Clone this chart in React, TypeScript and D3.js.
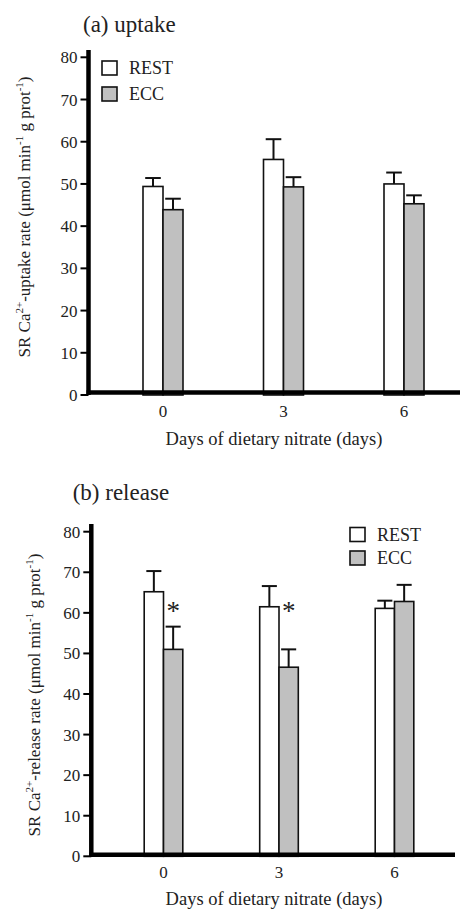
import React from "react";
import * as d3 from "d3";

// values (mean, upward SE)
const days = ["0", "3", "6"];
const groups = ["REST", "ECC"];
const yTicks = [0, 10, 20, 30, 40, 50, 60, 70, 80];

const uptakeRest = [49.4, 55.8, 50.0];
const uptakeRestErr = [2.0, 4.8, 2.7];
const uptakeEcc = [43.9, 49.3, 45.3];
const uptakeEccErr = [2.6, 2.3, 2.0];

const releaseRest = [65.2, 61.5, 61.1];
const releaseRestErr = [5.1, 5.1, 1.9];
const releaseEcc = [51.0, 46.6, 62.8];
const releaseEccErr = [5.6, 4.4, 4.1];
const releaseSig = ["*", "*", ""];

const FONT = "Liberation Serif, Times New Roman, DejaVu Serif, serif";
const fills = ["#ffffff", "#c0c0c0"];

const Panel = ({ title, label, rest, restErr, ecc, eccErr, sig, L }) => {
  const y = d3.scaleLinear().domain([0, 80]).range([L.y0, L.y80]);
  const x = d3.scalePoint().domain(days).range([L.c0, L.c2]);
  const sub = d3.scaleBand().domain(groups).range([-L.bw, L.bw]);
  const series = [
    { key: "REST", vals: rest, errs: restErr },
    { key: "ECC", vals: ecc, errs: eccErr },
  ];
  const cap = L.bw * 0.78;

  return (
    <g style={{ fontFamily: FONT }}>
      <text x={L.titleX} y={L.titleY} fontSize={23} fill="#222">{title}</text>

      {/* bars + error bars */}
      {series.map((s, si) => (
        <g key={s.key}>
          {days.map((d, i) => {
            const bx = x(d) + sub(s.key);
            const cx = bx + sub.bandwidth() / 2;
            const top = y(s.vals[i]);
            const et = y(s.vals[i] + s.errs[i]);
            return (
              <g key={d}>
                <line x1={cx} x2={cx} y1={top} y2={et} stroke="#111" strokeWidth={2} />
                <line x1={cx - cap / 2} x2={cx + cap / 2} y1={et} y2={et} stroke="#111" strokeWidth={2} />
                <rect x={bx} y={top} width={sub.bandwidth()} height={y(0) - top}
                  fill={fills[si]} stroke="#111" strokeWidth={1.6} />
              </g>
            );
          })}
        </g>
      ))}

      {sig && days.map((d, i) => sig[i] ? (
        <text key={d} x={x(d) + sub("ECC") + sub.bandwidth() / 2} y={y(L.sigAt)} textAnchor="middle"
          fontSize={27} fill="#222">{sig[i]}</text>
      ) : null)}

      {/* y axis */}
      <line x1={L.ax} x2={L.ax} y1={L.axTop} y2={L.y0} stroke="#000" strokeWidth={4.5} />
      {yTicks.map(t => (
        <g key={t}>
          <line x1={L.ax - 8} x2={L.ax} y1={y(t)} y2={y(t)} stroke="#000" strokeWidth={2} />
          <text x={L.ax - 11} y={y(t) + 6} textAnchor="end" fontSize={17} fill="#222">{t}</text>
        </g>
      ))}

      {/* x axis */}
      <line x1={L.ax - 2} x2={L.axRight} y1={L.y0 - L.xOff} y2={L.y0 - L.xOff} stroke="#000" strokeWidth={4.5} />
      {days.map(d => (
        <text key={d} x={x(d)} y={L.y0 + 22} textAnchor="middle" fontSize={17} fill="#222">{d}</text>
      ))}
      <text x={L.xlabX} y={L.xlabY} textAnchor="middle" fontSize={18.5} fill="#222">
        Days of dietary nitrate (days)
      </text>

      {/* y label */}
      <text transform={`translate(${L.ylabX},${L.ylabY}) rotate(-90)`} textAnchor="middle"
        fontSize={17} fill="#222">
        SR Ca<tspan fontSize={11} dy={-7}>2+</tspan><tspan dy={7}>-{label} rate (μmol min</tspan>
        <tspan fontSize={11} dy={-7}>-1</tspan><tspan dy={7}> g prot</tspan>
        <tspan fontSize={11} dy={-7}>-1</tspan><tspan dy={7}>)</tspan>
      </text>

      {/* legend */}
      {groups.map((g, i) => (
        <g key={g}>
          <rect x={L.legX} y={L.legY + i * L.legGap} width={15} height={14} fill={fills[i]} stroke="#111" strokeWidth={1.6} />
          <text x={L.legX + 27} y={L.legY + i * L.legGap + 13} fontSize={18} fill="#222">{g}</text>
        </g>
      ))}
    </g>
  );
};

const topLayout = {
  ax: 88.5, axTop: 50, y0: 395, y80: 57.3, xOff: 2.5, axRight: 460,
  c0: 163, c2: 404, bw: 20,
  titleX: 83, titleY: 32,
  xlabX: 274, xlabY: 445,
  ylabX: 30, ylabY: 217,
  legX: 102, legY: 61, legGap: 26,
  sigAt: 0,
};

const bottomLayout = {
  ax: 91.3, axTop: 524, y0: 856.3, y80: 531.7, xOff: 1.5, axRight: 455,
  c0: 163.5, c2: 394.5, bw: 19.3,
  titleX: 72.7, titleY: 500,
  xlabX: 274, xlabY: 905,
  ylabX: 40, ylabY: 695,
  legX: 350, legY: 527.5, legGap: 23.5,
  sigAt: 58.2,
};

export default function App() {
  return (
    <svg width={462} height={910} style={{ position: "absolute", left: 0, top: 0, background: "#fff" }}>
      <rect width={462} height={910} fill="#fff" />
      <Panel title="(a) uptake" label="uptake" rest={uptakeRest} restErr={uptakeRestErr}
        ecc={uptakeEcc} eccErr={uptakeEccErr} sig={null} L={topLayout} />
      <Panel title="(b) release" label="release" rest={releaseRest} restErr={releaseRestErr}
        ecc={releaseEcc} eccErr={releaseEccErr} sig={releaseSig} L={bottomLayout} />
    </svg>
  );
}
